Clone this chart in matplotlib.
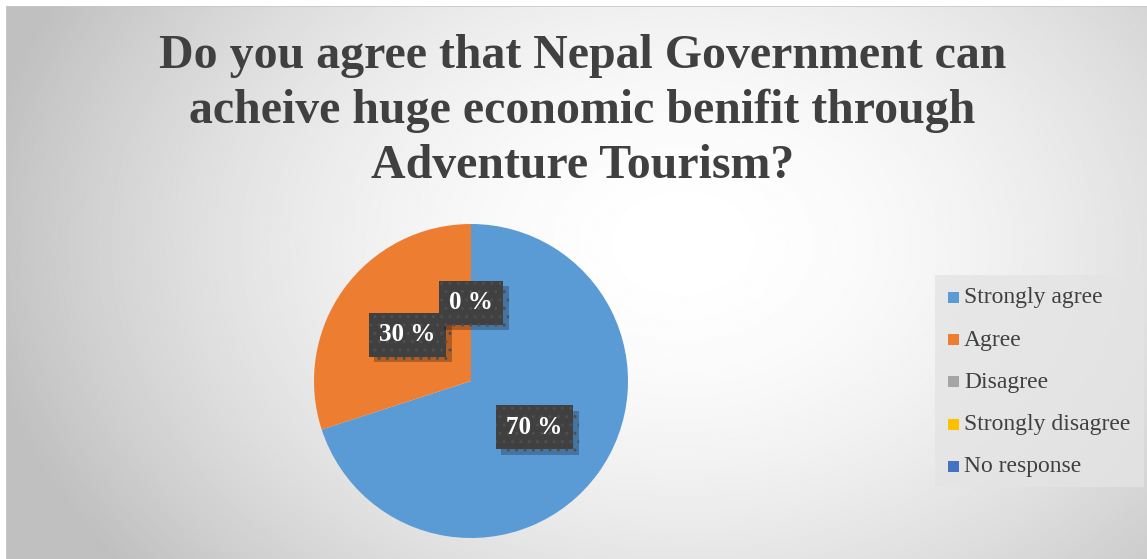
import numpy as np
import matplotlib.pyplot as plt
import matplotlib.patheffects as pe
from matplotlib.patches import Rectangle

categories = ["Strongly agree", "Agree", "Disagree", "Strongly disagree", "No response"]
shares = [70, 30, 0, 0, 0]
colors = ["#5b9bd5", "#ed7d31", "#a5a5a5", "#ffc000", "#4472c4"]
title = "Do you agree that Nepal Government can\nacheive huge economic benifit through\nAdventure Tourism?"

W, H, DPI = 1147, 559, 100
fig = plt.figure(figsize=(W / DPI, H / DPI), dpi=DPI)
fig.patch.set_facecolor("white")

# radial grey gradient behind the chart area
x0 = 6 / W
bg = fig.add_axes([x0, 0.0, 1 - x0, 1 - 6 / H])
bg.set_axis_off()
yy, xx = np.mgrid[0:H, 0:W]
cx, cy = 680, 240
d = np.sqrt(((xx - cx) / 700.0) ** 2 + ((yy - cy) / 520.0) ** 2)
shade = np.clip(1.0 - 0.24 * d ** 1.8, 0.75, 1.0)
bg.imshow(shade, cmap="gray", vmin=0, vmax=1, aspect="auto",
          extent=[0, 1, 0, 1], origin="upper", interpolation="bilinear")
bg.set_xlim(0, 1)
bg.set_ylim(0, 1)
bg.plot([0, 1], [1, 1], color="#c8c8c8", lw=1.2, transform=bg.transAxes)
bg.plot([0, 0], [0, 1], color="#c8c8c8", lw=1.2, transform=bg.transAxes)

fig.text(0.508, 0.94, title, ha="center", va="top", fontsize=34.5,
         fontweight="bold", family="Liberation Serif", color="#404040",
         linespacing=1.33)

# pie
r_px = 157
pcx, pcy = 471, 381
ax = fig.add_axes([(pcx - r_px) / W, (H - pcy - r_px) / H, 2 * r_px / W, 2 * r_px / H])
ax.set_axis_off()
wedges, _ = ax.pie(shares, colors=colors, startangle=90, counterclock=False,
                   radius=1.0, wedgeprops=dict(linewidth=0))
ax.set_xlim(-1, 1)
ax.set_ylim(-1, 1)

# data labels at half radius along each slice's middle angle
total = sum(shares)
start = 90.0
for i, v in enumerate(shares):
    sweep = 360.0 * v / total
    mid = np.deg2rad(start - sweep / 2)
    start -= sweep
    if v == 0 and i > 2:
        continue
    lx, ly = 0.5 * np.cos(mid), 0.5 * np.sin(mid)
    t = ax.text(lx, ly, f"{v} %", ha="center", va="center", fontsize=18,
                fontweight="bold", family="Liberation Serif", color="white",
                zorder=5,
                bbox=dict(boxstyle="square,pad=0.42", facecolor="#404040",
                          edgecolor="#4e4e4e", hatch="..", linewidth=0))
    t.get_bbox_patch().set_path_effects([
        pe.SimplePatchShadow(offset=(4, -4), shadow_rgbFace="black", alpha=0.25),
        pe.Normal()])

# legend
lg_x0, lg_y0, lg_x1, lg_y1 = 935, 275, 1144, 487
fig.patches.append(Rectangle((lg_x0 / W, 1 - lg_y1 / H), (lg_x1 - lg_x0) / W,
                             (lg_y1 - lg_y0) / H, transform=fig.transFigure,
                             facecolor="#e4e4e4", edgecolor="none", alpha=0.8))
for i, (name, c) in enumerate(zip(categories, colors)):
    yc = 297 + i * 42.2
    fig.patches.append(Rectangle((948 / W, 1 - (yc + 6) / H), 11 / W, 11 / H,
                                 transform=fig.transFigure, facecolor=c,
                                 edgecolor="none"))
    fig.text(964 / W, 1 - (yc + 1) / H, name, ha="left", va="center",
             fontsize=17, family="Liberation Serif", color="#404040")

fig.savefig("out.png", dpi=DPI)
